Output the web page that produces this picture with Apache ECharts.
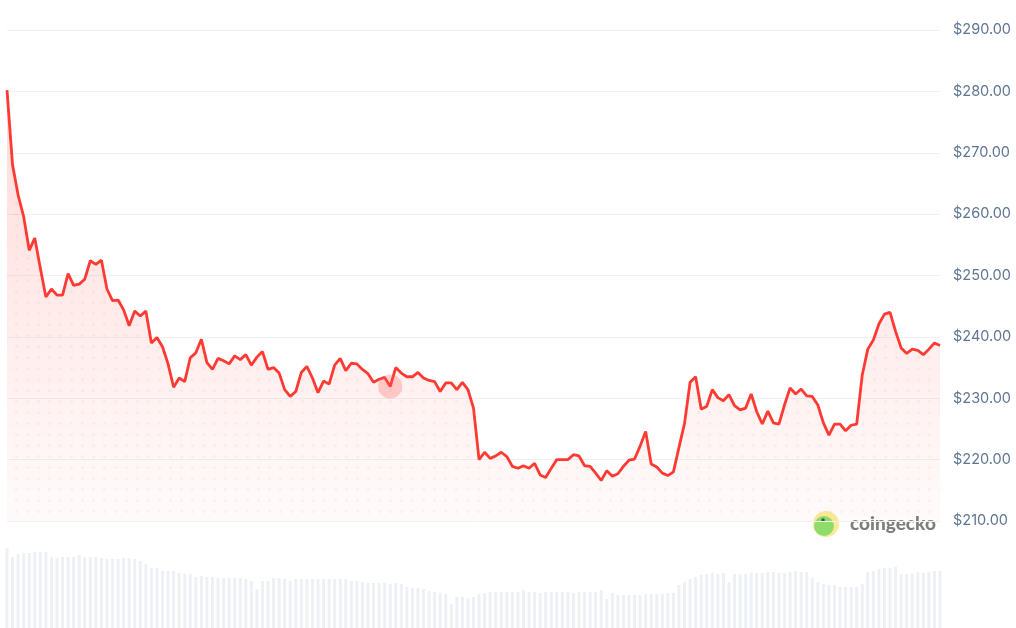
<!DOCTYPE html>
<html>
<head>
<meta charset="utf-8">
<script src="https://cdn.jsdelivr.net/npm/echarts@6/dist/echarts.min.js"></script>
<style>
  html, body { margin: 0; padding: 0; background: #fff; }
  #chart { width: 1016px; height: 628px; }
</style>
</head>
<body>
<div id="chart"></div>
<script>
// hourly price, 7 days (169 points)
const prices = [
  280.2, 268.0, 263.1, 259.6, 254.1, 256.1, 251.2, 246.5, 247.8, 246.8,
  246.8, 250.3, 248.4, 248.6, 249.4, 252.4, 251.8, 252.5, 247.8, 245.9,
  246.0, 244.4, 241.8, 244.2, 243.4, 244.2, 239.0, 239.9, 238.4, 235.6,
  231.8, 233.3, 232.7, 236.6, 237.4, 239.6, 235.8, 234.7, 236.5, 236.1,
  235.6, 236.9, 236.3, 237.1, 235.4, 236.7, 237.6, 234.7, 235.0, 234.1,
  231.4, 230.3, 231.1, 234.2, 235.2, 233.3, 230.9, 232.8, 232.3, 235.4,
  236.5, 234.5, 235.7, 235.6, 234.7, 234.0, 232.6, 233.1, 233.4, 231.9,
  235.0, 234.1, 233.5, 233.5, 234.2, 233.3, 232.9, 232.7, 231.1, 232.5,
  232.5, 231.4, 232.6, 231.4, 228.4, 220.0, 221.2, 220.2, 220.6, 221.2,
  220.5, 218.9, 218.6, 219.0, 218.6, 219.4, 217.5, 217.1, 218.6, 220.0,
  220.0, 220.0, 220.8, 220.6, 219.0, 218.9, 217.8, 216.6, 218.2, 217.3,
  217.7, 218.9, 219.9, 220.1, 222.2, 224.6, 219.3, 218.8, 217.8, 217.4,
  218.0, 222.0, 225.9, 232.6, 233.5, 228.2, 228.7, 231.4, 230.1, 229.6,
  230.6, 228.8, 228.1, 228.4, 230.7, 227.8, 225.8, 227.9, 226.0, 225.8,
  228.9, 231.7, 230.7, 231.5, 230.4, 230.3, 228.9, 226.0, 224.0, 225.8,
  225.8, 224.7, 225.6, 225.8, 233.8, 238.0, 239.5, 242.1, 243.7, 244.0,
  240.9, 238.2, 237.3, 238.0, 237.8, 237.1, 238.0, 239.0, 238.6
];

// relative trading volume per hour
const volumes = [
  80, 71, 74, 75, 75, 76, 76, 76, 71, 70,
  71, 71, 71, 73, 71, 71, 71, 70, 69, 69,
  69, 70, 70, 69, 67, 64, 60, 60, 57, 57,
  57, 55, 54, 54, 51, 52, 51, 51, 50, 50,
  50, 50, 50, 49, 47, 39, 47, 47, 50, 50,
  49, 47, 49, 49, 49, 49, 49, 49, 49, 49,
  49, 49, 47, 47, 46, 45, 45, 45, 45, 44,
  45, 44, 41, 40, 40, 39, 37, 36, 35, 34,
  24, 31, 31, 30, 31, 34, 35, 36, 36, 36,
  36, 36, 36, 38, 36, 36, 35, 36, 36, 36,
  36, 36, 35, 36, 36, 36, 36, 38, 29, 35,
  33, 33, 33, 33, 33, 34, 34, 34, 34, 35,
  35, 43, 46, 49, 51, 53, 54, 55, 54, 55,
  46, 54, 54, 54, 55, 55, 55, 56, 56, 55,
  55, 56, 57, 56, 56, 50, 46, 44, 43, 43,
  41, 41, 41, 41, 44, 56, 57, 59, 60, 60,
  61, 54, 54, 55, 56, 55, 56, 57, 57
];

const hours = prices.map((_, i) => i);
const hoverIndex = 69;

const priceMin = 210;
const priceMax = 290;
const priceStep = 10;

// dotted overlay for the area
const dots = document.createElement('canvas');
dots.width = 11;
dots.height = 11;
const dctx = dots.getContext('2d');
dctx.fillStyle = 'rgba(255, 90, 90, 0.10)';
dctx.beginPath();
dctx.arc(5.5, 5.5, 1.6, 0, Math.PI * 2);
dctx.fill();

const myChart = echarts.init(document.getElementById('chart'));

const option = {
  animation: false,
  grid: [
    { left: 7, right: 76, top: 30, bottom: 107 },
    { left: 7, right: 76, top: 528, height: 100 }
  ],
  xAxis: [
    {
      type: 'category',
      data: hours,
      boundaryGap: false,
      gridIndex: 0,
      show: false
    },
    {
      type: 'category',
      data: hours,
      boundaryGap: false,
      gridIndex: 1,
      show: false
    }
  ],
  yAxis: [
    {
      type: 'value',
      gridIndex: 0,
      position: 'right',
      min: priceMin,
      max: priceMax,
      interval: priceStep,
      axisLine: { show: false },
      axisTick: { show: false },
      axisLabel: {
        margin: 13,
        color: '#5f7592',
        fontSize: 14.5,
        fontFamily: 'Inter, "Noto Sans", sans-serif',
        formatter: (v) => '$' + v.toFixed(2)
      },
      splitLine: { lineStyle: { color: '#eff1f4', width: 1 } }
    },
    {
      type: 'value',
      gridIndex: 1,
      min: 0,
      max: 100,
      show: false
    }
  ],
  series: [
    {
      name: 'volume',
      type: 'bar',
      xAxisIndex: 1,
      yAxisIndex: 1,
      data: volumes,
      barWidth: 3,
      itemStyle: { color: '#edf0f4' },
      silent: true
    },
    {
      name: 'price-dots',
      type: 'line',
      data: prices,
      symbol: 'none',
      lineStyle: { width: 0 },
      areaStyle: {
        origin: 'start',
        color: { image: dots, repeat: 'repeat' }
      },
      silent: true,
      z: 2
    },
    {
      name: 'price',
      type: 'line',
      data: prices,
      symbol: 'none',
      lineStyle: { color: '#ff3a33', width: 2.8 },
      areaStyle: {
        origin: 'start',
        color: {
          type: 'linear', x: 0, y: 0, x2: 0, y2: 1,
          colorStops: [
            { offset: 0, color: 'rgba(255, 58, 51, 0.26)' },
            { offset: 1, color: 'rgba(255, 58, 51, 0.03)' }
          ]
        }
      },
      z: 3
    },
    {
      name: 'hover',
      type: 'scatter',
      data: prices.map((v, i) => (i === hoverIndex ? v : '-')),
      symbolSize: 24,
      itemStyle: { color: 'rgba(255, 90, 85, 0.35)' },
      silent: true,
      z: 4
    }
  ],
  graphic: [
    {
      type: 'group',
      left: 813,
      top: 511,
      z: 100,
      children: [
        { type: 'rect', shape: { x: 32, y: 1, width: 94, height: 24 }, style: { fill: '#fff' } },
        { type: 'circle', shape: { cx: 13, cy: 13, r: 13 }, style: { fill: '#f9eb9a' } },
        { type: 'circle', shape: { cx: 11, cy: 15, r: 10 }, style: { fill: '#8fdc6b' } },
        { type: 'circle', shape: { cx: 10, cy: 9, r: 1.8 }, style: { fill: '#2e6b2a' } },
        {
          type: 'text',
          x: 37,
          y: 3,
          style: {
            text: 'coingecko',
            fill: '#7e7e7e',
            font: '900 19px Lato, "Noto Sans", sans-serif'
          }
        }
      ]
    }
  ]
};

myChart.setOption(option);
</script>
</body>
</html>
